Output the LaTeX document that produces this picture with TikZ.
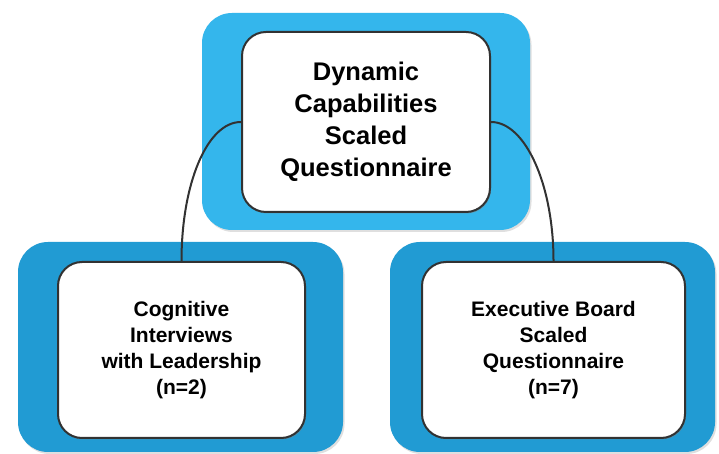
\documentclass[tikz,border=0pt]{standalone}
\usepackage{fontspec}
\setmainfont{Liberation Sans}
\usetikzlibrary{shadows}
\definecolor{topblue}{RGB}{52,182,236}
\definecolor{botblue}{RGB}{33,155,211}
\definecolor{edgegray}{RGB}{50,50,50}
\begin{document}
\begin{tikzpicture}[x=1pt,y=1pt,
  bluebox/.style={rectangle, rounded corners=30pt, inner sep=0pt, draw=none,
    drop shadow={shadow xshift=1.5pt, shadow yshift=-2pt, opacity=0.25}},
  whitebox/.style={rectangle, rounded corners=24pt, inner sep=0pt, fill=white,
    draw=edgegray, line width=2pt, align=center, text=black,
    drop shadow={shadow xshift=1pt, shadow yshift=-1.5pt, opacity=0.45}},
  toptext/.style={font=\bfseries\fontsize{25.5}{32}\selectfont},
  bottext/.style={font=\bfseries\fontsize{21}{26}\selectfont},
  link/.style={draw=edgegray, line width=2pt}]
\useasboundingbox[fill=white] (0,0) rectangle (719,454);
\node[bluebox, fill=topblue, minimum width=328pt, minimum height=217pt] (topb) at (366,332.5) {};
\node[bluebox, fill=botblue, minimum width=325pt, minimum height=210pt] (leftb) at (180.5,107) {};
\node[bluebox, fill=botblue, minimum width=325pt, minimum height=210pt] (rightb) at (552.5,107) {};
\node[whitebox, toptext, minimum width=248pt, minimum height=180pt] (top) at (366,332)
  {Dynamic\\Capabilities\\Scaled\\Questionnaire};
\node[whitebox, bottext, minimum width=247pt, minimum height=176pt] (left) at (181.5,104)
  {Cognitive\\Interviews\\with Leadership\\(n=2)};
\node[whitebox, bottext, minimum width=263pt, minimum height=176pt] (right) at (553.5,104)
  {Executive Board\\Scaled\\Questionnaire\\(n=7)};
\draw[link] (top.west) .. controls +(-34,0) and +(0,77) .. (left.north);
\draw[link] (top.east) .. controls +(34,0) and +(0,77) .. (right.north);
\end{tikzpicture}
\end{document}
